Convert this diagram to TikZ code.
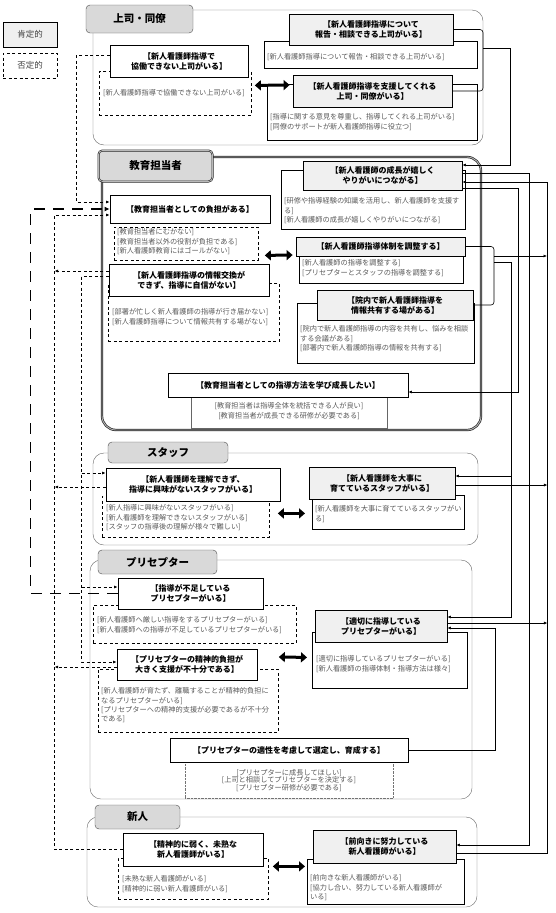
\documentclass[tikz,border=0pt]{standalone}
\usepackage{fontspec}
\setmainfont{Noto Sans CJK JP}
\usetikzlibrary{arrows.meta, positioning, calc}

\tikzset{
  mainfont/.style={font=\fontsize{8}{10}\selectfont\bfseries},
  posbox/.style={mainfont, draw, thick, fill=gray!12, align=center, inner sep=1pt},
  negbox/.style={mainfont, draw, thick, fill=white, align=center, inner sep=1pt},
  posdet/.style={draw, thick, fill=white, anchor=north west, inner sep=0pt},
  negdet/.style={draw, thick, dash pattern=on 3pt off 2.5pt, anchor=north west, inner sep=0pt},
  dettxt/.style={font=\fontsize{7.2}{9.3}\selectfont, text=black!65, align=left, inner sep=0pt, anchor=north west},
  grptab/.style={draw=black!70, rounded corners=4pt, fill=gray!30, font=\fontsize{10.5}{12}\selectfont\bfseries},
  grpframe/.style={draw=black!60, rounded corners=11pt},
  link/.style={semithick, -{Latex[length=3.5pt,width=3pt]}},
  neglink/.style={thick, dash pattern=on 3pt off 2.5pt, -{Latex[length=3.5pt,width=3pt]}},
  longlink/.style={line width=1.3pt, dash pattern=on 11pt off 8pt, -{Latex[length=5pt,width=5pt]}},
  dbl/.style={line width=3pt, {Triangle[length=6pt,width=10pt]}-{Triangle[length=6pt,width=10pt]}}
}

\begin{document}
\begin{tikzpicture}[x=1pt,y=-1pt]
\useasboundingbox (0,0) rectangle (556,913);

% 凡例
\node[draw, thick, fill=gray!12, minimum width=54pt, minimum height=25pt, font=\fontsize{8.5}{10}\selectfont, text=black!75] (legpos) at (30,34.5) {肯定的};
\node[draw, thick, dash pattern=on 3pt off 2.5pt, minimum width=54pt, minimum height=25pt, font=\fontsize{8.5}{10}\selectfont, text=black!75] (legneg) at (30,65.5) {否定的};

% グループ枠
\draw[grpframe] (93,10) rectangle (483,145);
\draw[rounded corners=14pt, draw=black!85, double=gray!55, double distance=0.9pt, line width=0.7pt] (102,157) rectangle (481,430);
\draw[grpframe] (93,453) rectangle (478,545);
\draw[grpframe] (90,560) rectangle (472,799);
\draw[grpframe] (87,817) rectangle (477,907);

\node[grptab, minimum width=107pt, minimum height=28pt] (bosstab) at (139.5,19) {上司・同僚};
\node[grptab, draw=black!85, double=gray!55, double distance=0.8pt, line width=0.6pt, minimum width=114pt, minimum height=31pt] (edutab) at (155.5,166) {教育担当者};
\node[grptab, minimum width=120pt, minimum height=21pt] (stafftab) at (168,452.5) {スタッフ};
\node[grptab, minimum width=119pt, minimum height=24pt] (prectab) at (157.5,562) {プリセプター};
\node[grptab, minimum width=85pt, minimum height=24pt] (newtab) at (137.5,817) {新人};

% 上司・同僚
\node[negdet, minimum width=152pt, minimum height=44pt] (bossnegd) at (99,71) {};
\node[posdet, minimum width=213pt, minimum height=27pt] (bossrepd) at (264,41) {};
\node[posdet, minimum width=210pt, minimum height=56pt] (bosssupd) at (267,84) {};
\node[negbox, minimum width=138pt, minimum height=32pt] (bossneg) at (179,61) {【新人看護師指導で\\協働できない上司がいる】};
\node[posbox, minimum width=164pt, minimum height=31pt] (bossrep) at (371,29.5) {【新人看護師指導について\\報告・相談できる上司がいる】};
\node[posbox, minimum width=159pt, minimum height=32pt] (bosssup) at (372.5,91) {【新人看護師指導を支援してくれる\\上司・同僚がいる】};
\node[dettxt] (bossnegt) at (103,89.5) {[新人看護師指導で協働できない上司がいる]};
\node[dettxt] (bossrept) at (267,53.5) {[新人看護師指導について報告・相談できる上司がいる]};
\node[dettxt] (bosssupt) at (270,113.5) {[指導に関する意見を尊重し、指導してくれる上司がいる]\\{}[同僚のサポートが新人看護師指導に役立つ]};

% 教育担当者
\node[negdet, minimum width=144pt, minimum height=33pt] (eduneg1d) at (114,227) {};
\node[negdet, minimum width=171pt, minimum height=58pt] (eduneg2d) at (108,283) {};
\node[posdet, minimum width=184pt, minimum height=59pt] (edupos1d) at (281,170) {};
\node[posdet, minimum width=164pt, minimum height=28pt] (edupos2d) at (299,255) {};
\node[posdet, minimum width=177pt, minimum height=60pt] (edupos3d) at (297,303) {};
\node[draw=black!60, semithick, minimum width=196pt, minimum height=31pt, anchor=north west] (edugoald) at (191,397) {};
\node[negbox, minimum width=160pt, minimum height=28pt] (eduneg1) at (190,209) {【教育担当者としての負担がある】};
\node[negbox, minimum width=160pt, minimum height=32pt] (eduneg2) at (189,280) {【新人看護師指導の情報交換が\\できず、指導に自信がない】};
\node[posbox, minimum width=159pt, minimum height=29pt] (edupos1) at (382.5,175.5) {【新人看護師の成長が嬉しく\\やりがいにつながる】};
\node[posbox, minimum width=169pt, minimum height=19pt] (edupos2) at (380.5,246.5) {【新人看護師指導体制を調整する】};
\node[posbox, minimum width=156pt, minimum height=30pt] (edupos3) at (395,305) {【院内で新人看護師指導を\\情報共有する場がある】};
\node[negbox, minimum width=240pt, minimum height=24pt] (edugoal) at (288,385) {【教育担当者としての指導方法を学び成長したい】};
\node[dettxt] (eduneg1t) at (117,228.5) {[教育担当者にむかない]\\{}[教育担当者以外の役割が負担である]\\{}[新人看護師教育にはゴールがない]};
\node[dettxt] (eduneg2t) at (112,308.5) {[部署が忙しく新人看護師の指導が行き届かない]\\{}[新人看護師指導について情報共有する場がない]};
\node[dettxt] (edupos1t) at (284,197.5) {[研修や指導経験の知識を活用し、新人看護師を支援す\\る]\\{}[新人看護師の成長が嬉しくやりがいにつながる]};
\node[dettxt] (edupos2t) at (302,259.5) {[新人看護師の指導を調整する]\\{}[プリセプターとスタッフの指導を調整する]};
\node[dettxt] (edupos3t) at (300,325.5) {[院内で新人看護師指導の内容を共有し、悩みを相談\\する会議がある]\\{}[部署内で新人看護師指導の情報を共有する]};
\node[dettxt, anchor=center, align=center] (edugoalt) at (289,411) {[教育担当者は指導全体を統括できる人が良い]\\{}[教育担当者が成長できる研修が必要である]};

% スタッフ
\node[negdet, minimum width=167pt, minimum height=41pt] (staffnegd) at (102,496) {};
\node[posdet, minimum width=152pt, minimum height=34pt] (staffposd) at (312,495) {};
\node[negbox, minimum width=174pt, minimum height=33pt] (staffneg) at (193,484.5) {【新人看護師を理解できず、\\指導に興味がないスタッフがいる】};
\node[posbox, minimum width=146pt, minimum height=32pt] (staffpos) at (382,483) {【新人看護師を大事に\\育てているスタッフがいる】};
\node[dettxt] (staffnegt) at (106,504.5) {[新人指導に興味がないスタッフがいる]\\{}[新人看護師を理解できないスタッフがいる]\\{}[スタッフの指導後の理解が様々で難しい]};
\node[dettxt] (staffpost) at (315,505.5) {[新人看護師を大事に育てているスタッフがい\\る]};

% プリセプター
\node[negdet, minimum width=203pt, minimum height=38pt] (precneg1d) at (93,605) {};
\node[negdet, minimum width=180pt, minimum height=63pt] (precneg2d) at (98,669) {};
\node[posdet, minimum width=155pt, minimum height=56pt] (precposd) at (312,632) {};
\node[draw=black!55, densely dotted, minimum width=208pt, minimum height=36pt, anchor=north west] (precgoald) at (185,762) {};
\node[negbox, minimum width=145pt, minimum height=31pt] (precneg1) at (190.5,593.5) {【指導が不足している\\プリセプターがいる】};
\node[negbox, minimum width=140pt, minimum height=31pt] (precneg2) at (187,664.5) {【プリセプターの精神的負担が\\大きく支援が不十分である】};
\node[posbox, minimum width=132pt, minimum height=32pt] (precpos) at (381,626) {【適切に指導している\\プリセプターがいる】};
\node[negbox, minimum width=238pt, minimum height=24pt] (precgoal) at (289,750) {【プリセプターの適性を考慮して選定し、育成する】};
\node[dettxt] (precneg1t) at (97,616.5) {[新人看護師へ厳しい指導をするプリセプターがいる]\\{}[新人看護師への指導が不足しているプリセプターがいる]};
\node[dettxt] (precneg2t) at (101,687.5) {[新人看護師が育たず、離職することが精神的負担に\\なるプリセプターがいる]\\{}[プリセプターへの精神的支援が必要であるが不十分\\である]};
\node[dettxt] (precpost) at (316,655.5) {[適切に指導しているプリセプターがいる]\\{}[新人看護師の指導体制・指導方法は様々]};
\node[dettxt, anchor=center, align=center, font=\fontsize{7.2}{7.8}\selectfont] (precgoalt) at (289,780.5) {[プリセプターに成長してほしい]\\{}[上司と相談してプリセプターを決定する]\\{}[プリセプター研修が必要である]};

% 新人
\node[negdet, minimum width=150pt, minimum height=41pt] (newnegd) at (118,858) {};
\node[posdet, minimum width=157pt, minimum height=45pt] (newposd) at (307,859) {};
\node[negbox, minimum width=140pt, minimum height=33pt] (newneg) at (193,849.5) {【精神的に弱く、未熟な\\新人看護師がいる】};
\node[posbox, minimum width=143pt, minimum height=33pt] (newpos) at (384.5,846.5) {【前向きに努力している\\新人看護師がいる】};
\node[dettxt] (newnegt) at (122,875.5) {[未熟な新人看護師がいる]\\{}[精神的に弱い新人看護師がいる]};
\node[dettxt] (newpost) at (310,874.5) {[前向きな新人看護師がいる]\\{}[協力し合い、努力している新人看護師が\\いる]};

% 両矢印
\draw[dbl] ($(bossnegd.east)+(3,-8)$) -- ($(bosssup.west)+(-3,-6)$);
\draw[dbl] ($(eduneg1d.east)+(6,11.5)$) -- ($(edupos2.west)+(-3,8.5)$);
\draw[dbl] ($(staffnegd.east)+(8,-3.5)$) -- ($(staffposd.west)+(-7,1)$);
\draw[dbl] ($(precneg2d.north east)+(0,-12)$) -- ($(precposd.west)+(-5,-3)$);
\draw[dbl] ($(newnegd.east)+(4,-12.5)$) -- ($(newposd.west)+(-2,-15.5)$);

% 右側の連結線
\coordinate (br1) at (483,48);
\coordinate (br2) at (494,256);
\draw[semithick, rounded corners=3pt] (bossrep.east) -| (br1) |- (bosssup.east);
\draw[link] (br1) -- ++(27,0) |- ($(edupos1.east)+(0,-10.5)$);
\draw[link] ($(newpos.east)+(0,6.5)$) -- ++(91,0) |- ($(edupos1.east)+(0,6.5)$);
\draw[link] ($(edupos1.east)+(0,12.5)$) -- ++(56,0) |- ($(edugoal.east)+(0,7)$);
\draw[link] ($(edupos1.east)+(0,-2.5)$) -- ++(67,0) |- ($(newpos.east)+(0,-1.5)$);
\draw[semithick, rounded corners=3pt] (edupos2.east) -| (br2) |- (edupos3.east);
\draw[link] (br2) -- ++(53,0);
\draw[link] ($(br2)+(0,6)$) -- ++(17,0) |- ($(precpos.east)+(0,-9)$);
\draw[link] ($(staffpos.east)+(56,-7)$) -- ($(staffpos.east)+(0,-7)$);
\draw[link] ($(staffpos.east)+(0,2)$) -- ++(92,0);
\draw[link] ($(precpos.east)+(0,-3)$) -- ++(100,0);
\draw[link] (precgoal.east) -- ++(87,0) |- ($(precpos.east)+(0,2)$);

% 左側の連結線
\draw[neglink] ($(bossneg.west)+(0,-6)$) -- ++(-33,0) |- ($(eduneg1.west)+(0,-7)$);
\draw[longlink] (precneg1.west) -- ++(-87,0) |- (eduneg1.west);
\draw[neglink] (newneg.west) -- ++(-68,0) |- ($(eduneg1.west)+(0,6)$);
\draw[neglink] ($(eduneg2.west)+(0,-9)$) -- ++(-54,0);
\draw[neglink] ($(eduneg2.west)+(0,-4)$) -- ++(-27,0) |- ($(precneg2.west)+(0,-2.5)$);
\draw[neglink] ($(staffneg.west)+(-24,-11.5)$) -- ($(staffneg.west)+(0,-11.5)$);
\draw[neglink] ($(precneg1.west)+(-36,-6.5)$) -- ($(precneg1.west)+(0,-6.5)$);
\draw[neglink] ($(staffneg.west)+(0,2.5)$) -- ++(-51,0);
\draw[neglink] ($(precneg2.west)+(0,2.5)$) -- ++(-62,0);
\end{tikzpicture}
\end{document}
